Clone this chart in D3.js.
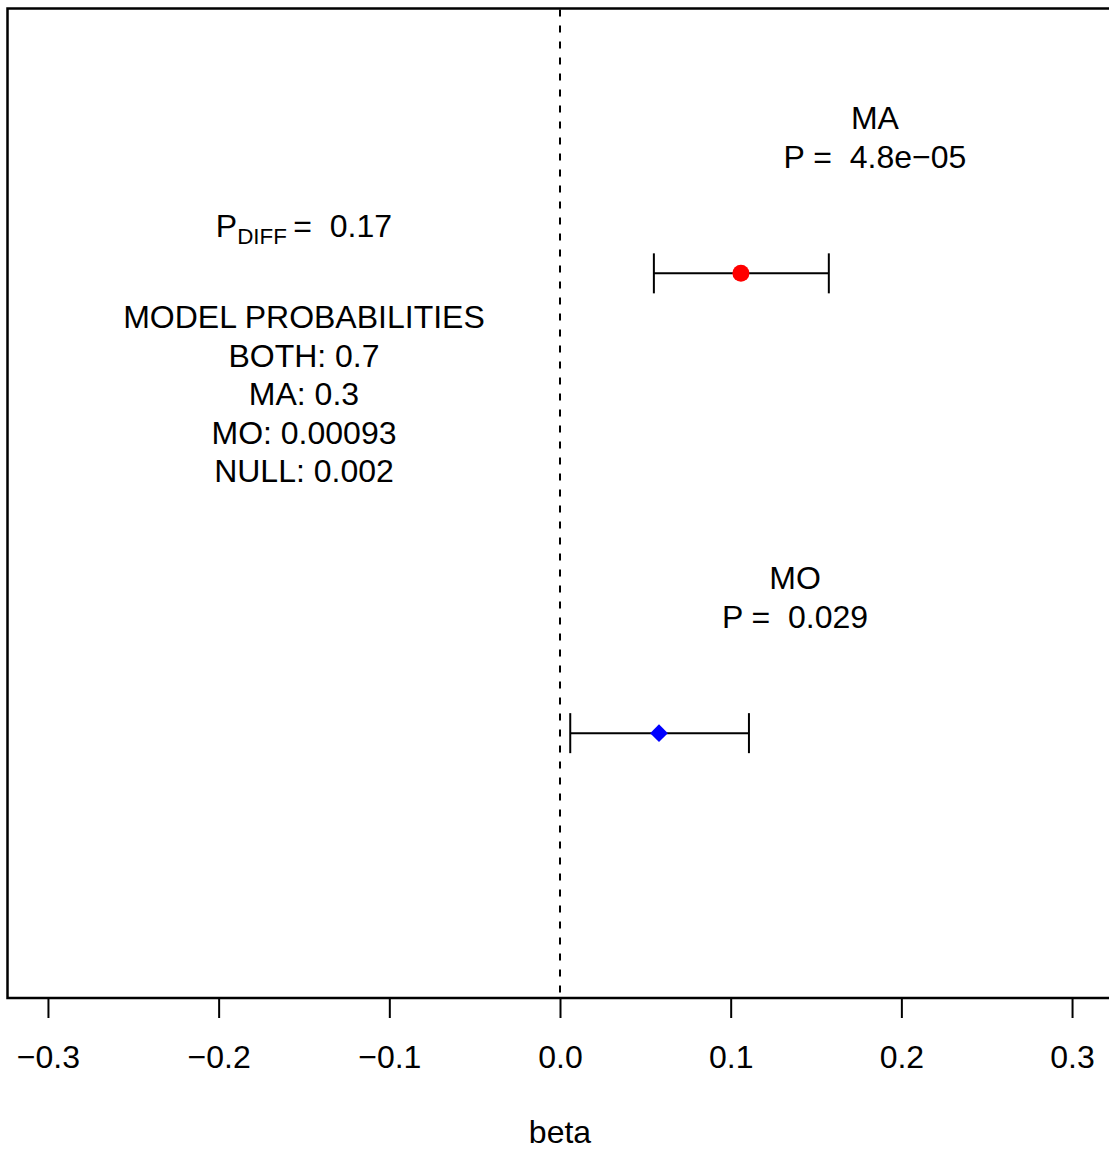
<!DOCTYPE html>
<html><head><meta charset="utf-8">
<script src="https://cdn.jsdelivr.net/npm/d3@7"></script>
<style>body{margin:0;background:#fff}svg{display:block}text{font-family:"Liberation Sans",Arial,sans-serif;fill:#000}</style>
</head><body><div id="chart"></div>
<script>
// data
const groups = ["MA", "MO"];
const beta = [0.106, 0.058];
const lower = [0.055, 0.006];
const upper = [0.1575, 0.1107];
const pvals = ["4.8e\u221205", "0.029"];
const colors = ["#ff0000", "#0000ff"];
const shapes = ["circle", "diamond"];
const pDiff = "0.17";
const modelProbs = ["MODEL PROBABILITIES", "BOTH: 0.7", "MA: 0.3", "MO: 0.00093", "NULL: 0.002"];
const xTicks = [-0.3, -0.2, -0.1, 0.0, 0.1, 0.2, 0.3];
const xDomain = [-0.3237, 0.3237];
const textCenterBeta = -0.15;

const W = 1109, H = 1149;
const fs = 32;
const svg = d3.select("#chart").append("svg").attr("width", W).attr("height", H);

const x = d3.scaleLinear().domain(xDomain).range([7.5, 1112.5]);
const y = d3.scaleLinear().domain([0.424, 2.576]).range([8.5, 998]);

// box
svg.append("rect").attr("x", x(xDomain[0])).attr("y", y(0.424))
  .attr("width", x(xDomain[1]) - x(xDomain[0])).attr("height", y(2.576) - y(0.424))
  .attr("fill", "none").attr("stroke", "#000").attr("stroke-width", 2.5);

// axis
const axis = d3.axisBottom(x).tickValues(xTicks).tickSize(20).tickPadding(16)
  .tickFormat(d => d3.format(".1f")(d).replace("-", "\u2212"));
const ag = svg.append("g").attr("transform", `translate(0,${y(2.576)})`).call(axis);
ag.select(".domain").remove();
ag.selectAll(".tick line").attr("stroke", "#000").attr("stroke-width", 2);
ag.selectAll(".tick text").attr("font-size", fs).attr("font-family", '"Liberation Sans",Arial,sans-serif').attr("dy", null).attr("y", 70);

svg.append("text").attr("x", x(0)).attr("y", 1143).attr("text-anchor", "middle").attr("font-size", fs).text("beta");

// zero dashed line
svg.append("line").attr("x1", x(0)).attr("x2", x(0)).attr("y1", y(0.424)).attr("y2", y(2.576))
  .attr("stroke", "#000").attr("stroke-width", 2).attr("stroke-dasharray", "7,9").attr("stroke-dashoffset", -1);

// error bars and points
groups.forEach((g, i) => {
  const yy = y(i + 1);
  const eg = svg.append("g");
  eg.append("line").attr("x1", x(lower[i])).attr("x2", x(upper[i])).attr("y1", yy).attr("y2", yy)
    .attr("stroke", "#000").attr("stroke-width", 2);
  [lower[i], upper[i]].forEach(v => {
    eg.append("line").attr("x1", x(v)).attr("x2", x(v)).attr("y1", yy - 20).attr("y2", yy + 20)
      .attr("stroke", "#000").attr("stroke-width", 2);
  });
  const sym = shapes[i] === "circle" ? d3.symbolCircle : d3.symbolDiamond2;
  const size = shapes[i] === "circle" ? Math.PI * 8.5 * 8.5 : 2 * 10 * 10;
  svg.append("path").attr("d", d3.symbol().type(sym).size(size)())
    .attr("transform", `translate(${x(beta[i])},${yy})`).attr("fill", colors[i]);
  const lx = x(upper[i] + 0.027);
  svg.append("text").attr("x", lx).attr("y", yy - 144).attr("text-anchor", "middle").attr("font-size", fs).text(g);
  svg.append("text").attr("x", lx).attr("y", yy - 105).attr("text-anchor", "middle").attr("font-size", fs)
    .style("white-space", "pre").text("P =  " + pvals[i]);
});

// P_DIFF
const tx = x(textCenterBeta);
const pd = svg.append("text").attr("x", tx).attr("y", 237).attr("text-anchor", "middle").attr("font-size", fs).style("white-space", "pre");
pd.append("tspan").text("P");
pd.append("tspan").attr("font-size", fs * 0.7).attr("dy", 7).text("DIFF");
pd.append("tspan").attr("dy", -7).text("\u2009=  " + pDiff);

modelProbs.forEach((t, i) => {
  svg.append("text").attr("x", tx).attr("y", 328 + i * 38.5).attr("text-anchor", "middle").attr("font-size", fs).text(t);
});
</script></body></html>
